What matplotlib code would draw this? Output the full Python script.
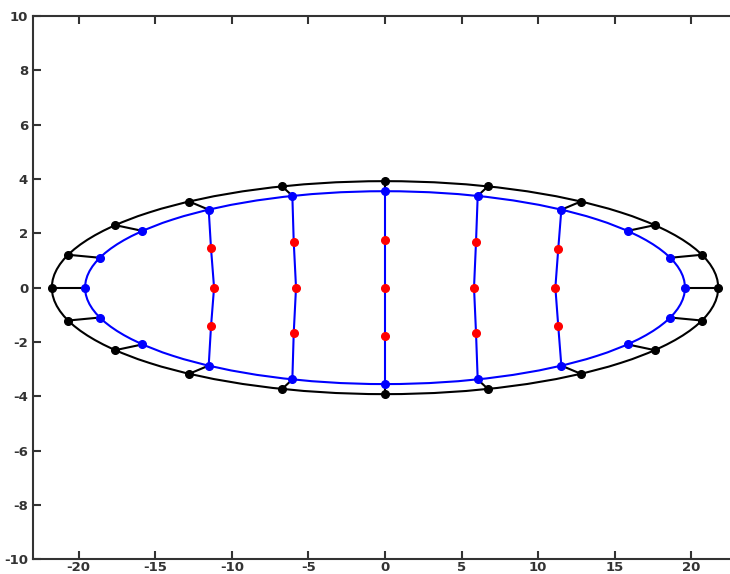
import matplotlib
matplotlib.use("Agg")
import matplotlib.pyplot as plt
from matplotlib.patches import Ellipse

plt.rcParams['axes.unicode_minus'] = False

# outer (black) and inner (blue) ellipse semi-axes
outer_a, outer_b = 21.75, 3.92
inner_a, inner_b = 19.58, 3.55

# black points on the outer ellipse
outer_x = [21.75, 20.68, 17.6, 12.78, 6.72, 0.0, -6.72, -12.78, -17.6, -20.68,
           -21.75, -20.68, -17.6, -12.78, -6.72, 0.0, 6.72, 12.78, 17.6, 20.68]
outer_y = [0.0, 1.21, 2.3, 3.17, 3.73, 3.92, 3.73, 3.17, 2.3, 1.21,
           0.0, -1.21, -2.3, -3.17, -3.73, -3.92, -3.73, -3.17, -2.3, -1.21]

# blue points on the inner ellipse
inner_x = [19.58, 18.62, 15.84, 11.51, 6.05, 0.0, -6.05, -11.51, -15.84, -18.62,
           -19.58, -18.62, -15.84, -11.51, -6.05, 0.0, 6.05, 11.51, 15.84, 18.62]
inner_y = [0.0, 1.1, 2.09, 2.87, 3.38, 3.55, 3.38, 2.87, 2.09, 1.1,
           0.0, -1.1, -2.09, -2.87, -3.38, -3.55, -3.38, -2.87, -2.09, -1.1]

# interior columns: (top blue idx, bottom blue idx, red x, red y)
columns = [
    (7, 13, [-11.36, -11.16, -11.36], [1.45, 0.0, -1.43]),
    (6, 14, [-5.96, -5.81, -5.96], [1.69, 0.0, -1.67]),
    (5, 15, [0.0, 0.0, 0.0], [1.77, 0.0, -1.77]),
    (4, 16, [5.94, 5.81, 5.94], [1.69, 0.0, -1.67]),
    (3, 17, [11.31, 11.12, 11.31], [1.44, 0.0, -1.43]),
]

fig = plt.figure(figsize=(7.3, 5.74), dpi=100)
ax = fig.add_axes([33 / 730, 1 - 559.3 / 574, 1 - 33 / 730, (559.3 - 16) / 574])

ax.add_patch(Ellipse((0, 0), 2 * outer_a, 2 * outer_b, fill=False, color='black', lw=1.5))
ax.add_patch(Ellipse((0, 0), 2 * inner_a, 2 * inner_b, fill=False, color='blue', lw=1.5))

for i in range(len(outer_x)):
    ax.plot([outer_x[i], inner_x[i]], [outer_y[i], inner_y[i]], color='black', lw=1.5)

for top, bot, rx, ry in columns:
    xs = [inner_x[top]] + rx + [inner_x[bot]]
    ys = [inner_y[top]] + ry + [inner_y[bot]]
    ax.plot(xs, ys, color='blue', lw=1.5)
    ax.plot(rx, ry, 'o', color='red', ms=5.5, zorder=5)

ax.plot(outer_x, outer_y, 'o', color='black', ms=5.5, zorder=5)
ax.plot(inner_x, inner_y, 'o', color='blue', ms=5.5, zorder=5)

ax.set_xlim(-22.98, 22.52)
ax.set_ylim(-10, 10)
ax.set_xticks([-20, -15, -10, -5, 0, 5, 10, 15, 20])
ax.set_yticks([-10, -8, -6, -4, -2, 0, 2, 4, 6, 8, 10])
ax.spines['right'].set_visible(False)
for s in ['left', 'top', 'bottom']:
    ax.spines[s].set_color('#333333')
    ax.spines[s].set_linewidth(1.5)
ax.tick_params(direction='in', top=True, length=6, width=1.5, color='#333333',
               labelcolor='#333333', labelsize=9.5)
ax.tick_params(axis='x', pad=1)
for lbl in ax.get_xticklabels() + ax.get_yticklabels():
    lbl.set_fontweight('bold')

fig.savefig('out.png', dpi=100)
